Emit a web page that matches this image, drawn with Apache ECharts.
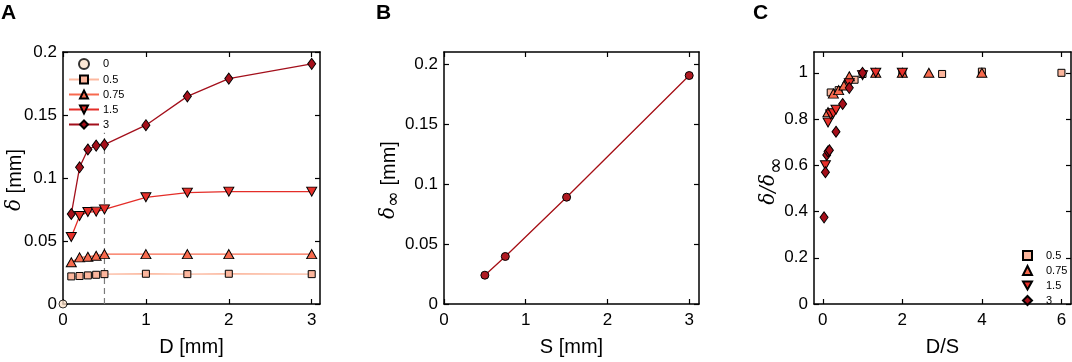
<!DOCTYPE html>
<html>
<head>
<meta charset="utf-8">
<script src="https://cdn.jsdelivr.net/npm/echarts@6/dist/echarts.min.js"></script>
<style>
    html, body { margin: 0; padding: 0; background: #fff; }
    #chart { width: 1072px; height: 362px; }
</style>
</head>
<body>
<div id="chart"></div>
<script>
    // 面板A：δ 随 D 变化（各 S）
    const dValues = [0.1, 0.2, 0.3, 0.4, 0.5, 1, 1.5, 2, 3];
    const deltaS05 = [0.0219, 0.0222, 0.0227, 0.0232, 0.0237, 0.0240, 0.0237, 0.0240, 0.0237];
    const deltaS075 = [0.0331, 0.0370, 0.0375, 0.0383, 0.0396, 0.0396, 0.0396, 0.0396, 0.0396];
    const deltaS15 = [0.0532, 0.0699, 0.0730, 0.0733, 0.0751, 0.0847, 0.0884, 0.0892, 0.0892];
    const deltaS3 = [0.0714, 0.1085, 0.1226, 0.1257, 0.1265, 0.1419, 0.1648, 0.1789, 0.1906];
    const dashX = [0.5, 0.5];
    const dashY = [0, 0.136];

    // 面板B：δ∞ 随 S
    const sValues = [0.5, 0.75, 1.5, 3];
    const deltaInf = [0.024, 0.0396, 0.089, 0.1904];

    // 面板C：δ/δ∞ 随 D/S
    const ratioX05 = [0.2, 0.4, 0.6, 0.8, 1, 2, 3, 4, 6];
    const ratioY05 = [0.915, 0.925, 0.945, 0.97, 0.995, 1.0, 0.995, 1.005, 1.0];
    const ratioX075 = [0.133, 0.267, 0.4, 0.533, 0.667, 1.333, 2, 2.667, 4];
    const ratioY075 = [0.83, 0.91, 0.925, 0.945, 0.985, 1.0, 1.0, 1.0, 1.0];
    const ratioX15 = [0.067, 0.133, 0.2, 0.267, 0.333, 0.667, 1, 1.333, 2];
    const ratioY15 = [0.6, 0.785, 0.82, 0.825, 0.84, 0.955, 0.99, 1.0, 1.0];
    const ratioX3 = [0.033, 0.067, 0.1, 0.133, 0.167, 0.333, 0.5, 0.667, 1];
    const ratioY3 = [0.375, 0.57, 0.645, 0.66, 0.665, 0.745, 0.865, 0.935, 1.0];

    // 刻度
    const ticksA_x = [0, 1, 2, 3];
    const ticksA_y = [0, 0.05, 0.1, 0.15, 0.2];
    const ticksB_x = [0, 1, 2, 3];
    const ticksB_y = [0, 0.05, 0.1, 0.15, 0.2];
    const ticksC_x = [0, 2, 4, 6];
    const ticksC_y = [0, 0.2, 0.4, 0.6, 0.8, 1];

    const FONT = 'Liberation Sans, Arial, sans-serif';
    const col0 = '#fde2cb', col05 = '#fbb59c', col075 = '#f76a4d', col15 = '#e8302a', col3 = '#a50f1a';
    const colB = '#b01a22';
    // 图例里的倒三角
    const downTriangle = 'path://M0,0L10,0L5,9Z';

    const zip = (xs, ys) => xs.map((x, i) => [x, ys[i]]);

    // 坐标轴（下/左带标签，上/右只有刻度）
    function xAxes(grid, min, max, ticks, name) {
        return [{
            type: 'value', gridIndex: grid, min: min, max: max, position: 'bottom',
            name: name, nameLocation: 'middle', nameGap: 33,
            nameTextStyle: {fontFamily: FONT, fontSize: 20, color: '#000'},
            axisLine: {show: true, onZero: false, lineStyle: {color: '#000', width: 1.5}},
            axisTick: {show: true, inside: true, length: 5, customValues: ticks, lineStyle: {color: '#000', width: 1.2}},
            axisLabel: {customValues: ticks, margin: 8, fontFamily: FONT, fontSize: 17, color: '#000', formatter: v => String(v)},
            splitLine: {show: false}
        }, {
            type: 'value', gridIndex: grid, min: min, max: max, position: 'top',
            axisLine: {show: true, onZero: false, lineStyle: {color: '#000', width: 1.5}},
            axisTick: {show: true, inside: true, length: 5, customValues: ticks, lineStyle: {color: '#000', width: 1.2}},
            axisLabel: {show: false},
            splitLine: {show: false}
        }];
    }

    function yAxes(grid, min, max, ticks) {
        return [{
            type: 'value', gridIndex: grid, min: min, max: max, position: 'left',
            axisLine: {show: true, onZero: false, lineStyle: {color: '#000', width: 1.5}},
            axisTick: {show: true, inside: true, length: 5, customValues: ticks, lineStyle: {color: '#000', width: 1.2}},
            axisLabel: {customValues: ticks, margin: 6, fontFamily: FONT, fontSize: 17, color: '#000', formatter: v => String(v)},
            splitLine: {show: false}
        }, {
            type: 'value', gridIndex: grid, min: min, max: max, position: 'right',
            axisLine: {show: true, onZero: false, lineStyle: {color: '#000', width: 1.5}},
            axisTick: {show: true, inside: true, length: 5, customValues: ticks, lineStyle: {color: '#000', width: 1.2}},
            axisLabel: {show: false},
            splitLine: {show: false}
        }];
    }

    const xa = xAxes(0, 0, 3.1, ticksA_x, 'D [mm]');
    const xb = xAxes(1, 0, 3.12, ticksB_x, 'S [mm]');
    const xc = xAxes(2, -0.22, 6.24, ticksC_x, 'D/S');
    const ya = yAxes(0, 0, 0.2, ticksA_y);
    const yb = yAxes(1, 0, 0.21, ticksB_y);
    const yc = yAxes(2, 0, 1.09, ticksC_y);

    function lineA(name, ys, color, lineColor, symbol, size, rotate) {
        return {
            name: name, type: 'line', xAxisIndex: 0, yAxisIndex: 0,
            data: zip(dValues, ys),
            symbol: symbol, symbolSize: size, symbolRotate: rotate || 0,
            showAllSymbol: true, clip: false,
            lineStyle: {color: lineColor, width: 1.3},
            itemStyle: {color: color, borderColor: '#000', borderWidth: 1},
            emphasis: {disabled: true}, z: 3
        };
    }

    function scatterC(name, xs, ys, color, symbol, size, rotate, z) {
        return {
            name: name, type: 'scatter', xAxisIndex: 2, yAxisIndex: 2,
            data: zip(xs, ys),
            symbol: symbol, symbolSize: size, symbolRotate: rotate || 0, clip: false,
            itemStyle: {color: color, borderColor: '#000', borderWidth: 1, opacity: 1},
            emphasis: {disabled: true}, z: z
        };
    }

    const chart = echarts.init(document.getElementById('chart'), null, {renderer: 'canvas'});
    chart.setOption({
        animation: false,
        backgroundColor: '#fff',
        textStyle: {fontFamily: FONT},
        grid: [
            {left: 63, top: 52, width: 257, height: 256},
            {left: 444, top: 52, width: 255, height: 256},
            {left: 814, top: 52, width: 257, height: 256}
        ],
        xAxis: [xa[0], xb[0], xc[0], xa[1], xb[1], xc[1]],
        yAxis: [ya[0], yb[0], yc[0], ya[1], yb[1], yc[1]],
        legend: [
            {
                data: ['0', '0.5', '0.75', '1.5', '3'],
                orient: 'vertical', left: 68, top: 58, padding: 0,
                itemWidth: 30, itemHeight: 10, itemGap: 4,
                textStyle: {fontFamily: FONT, fontSize: 11, lineHeight: 10, color: '#000', padding: [0, 0, 0, -1]},
                selectedMode: false
            },
            {
                data: [
                    {name: 'C 0.5', icon: 'rect'},
                    {name: 'C 0.75', icon: 'triangle'},
                    {name: 'C 1.5', icon: downTriangle},
                    {name: 'C 3', icon: 'diamond'}
                ],
                orient: 'vertical', left: 1022, top: 250, padding: 0,
                itemWidth: 9, itemHeight: 9, itemGap: 4,
                formatter: n => n.replace('C ', ''),
                textStyle: {fontFamily: FONT, fontSize: 11, lineHeight: 9, color: '#000', padding: [0, 0, 0, 9]},
                selectedMode: false
            }
        ],
        graphic: [
            {type: 'text', left: 1, top: 3, style: {text: 'A', font: 'bold 21px ' + FONT, fill: '#000'}},
            {type: 'text', left: 376, top: 3, style: {text: 'B', font: 'bold 21px ' + FONT, fill: '#000'}},
            {type: 'text', left: 753, top: 3, style: {text: 'C', font: 'bold 21px ' + FONT, fill: '#000'}},
            {
                type: 'text', x: 15, y: 180, rotation: Math.PI / 2,
                style: {
                    text: '{i|δ} [mm]', fill: '#000', align: 'center', verticalAlign: 'middle',
                    font: '20px ' + FONT,
                    rich: {i: {fontStyle: 'italic', fontSize: 20, fontFamily: 'DejaVu Serif'}}
                }
            },
            {
                type: 'text', x: 389, y: 180, rotation: Math.PI / 2,
                style: {
                    text: '{i|δ}{s|∞} [mm]', fill: '#000', align: 'center', verticalAlign: 'middle',
                    font: '20px ' + FONT,
                    rich: {
                        i: {fontStyle: 'italic', fontSize: 20, fontFamily: 'DejaVu Serif', lineHeight: 30},
                        s: {fontSize: 19, fontFamily: 'DejaVu Sans', verticalAlign: 'bottom', lineHeight: 30}
                    }
                }
            },
            {
                type: 'text', x: 769, y: 181, rotation: Math.PI / 2,
                style: {
                    text: '{i|δ/δ}{s|∞}', fill: '#000', align: 'center', verticalAlign: 'middle',
                    font: '20px ' + FONT,
                    rich: {
                        i: {fontStyle: 'italic', fontSize: 20, fontFamily: 'DejaVu Serif', lineHeight: 36},
                        s: {fontSize: 20, fontFamily: 'DejaVu Sans', verticalAlign: 'bottom', lineHeight: 36}
                    }
                }
            }
        ],
        series: [
            // 面板A
            {
                name: 'dash', type: 'line', xAxisIndex: 0, yAxisIndex: 0,
                data: zip(dashX, dashY), symbol: 'none',
                lineStyle: {color: '#7a7a7a', width: 1.2, type: [6, 4]},
                emphasis: {disabled: true}, z: 1
            },
            {
                name: '0', type: 'scatter', xAxisIndex: 0, yAxisIndex: 0,
                data: [[0, 0]], symbol: 'circle', symbolSize: 8, clip: false,
                itemStyle: {color: col0, borderColor: '#000', borderWidth: 1},
                emphasis: {disabled: true}, z: 5
            },
            lineA('0.5', deltaS05, col05, '#fcb9a0', 'rect', 7),
            lineA('0.75', deltaS075, col075, '#f7694e', 'triangle', [10, 9]),
            lineA('1.5', deltaS15, col15, '#e42d28', 'triangle', [10, 9], 180),
            lineA('3', deltaS3, col3, '#a30f1b', 'diamond', [8, 11]),
            // 面板B
            {
                name: 'B', type: 'line', xAxisIndex: 1, yAxisIndex: 1,
                data: zip(sValues, deltaInf), symbol: 'circle', symbolSize: 8,
                lineStyle: {color: '#a50f15', width: 1.3},
                itemStyle: {color: colB, borderColor: '#000', borderWidth: 1},
                emphasis: {disabled: true}
            },
            // 面板C
            scatterC('C 0.5', ratioX05, ratioY05, col05, 'rect', 7, 0, 2),
            scatterC('C 0.75', ratioX075, ratioY075, col075, 'triangle', [10, 9], 0, 3),
            scatterC('C 1.5', ratioX15, ratioY15, col15, 'triangle', [10, 9], 180, 4),
            scatterC('C 3', ratioX3, ratioY3, col3, 'diamond', [8, 11], 0, 5)
        ]
    });
</script>
</body>
</html>
